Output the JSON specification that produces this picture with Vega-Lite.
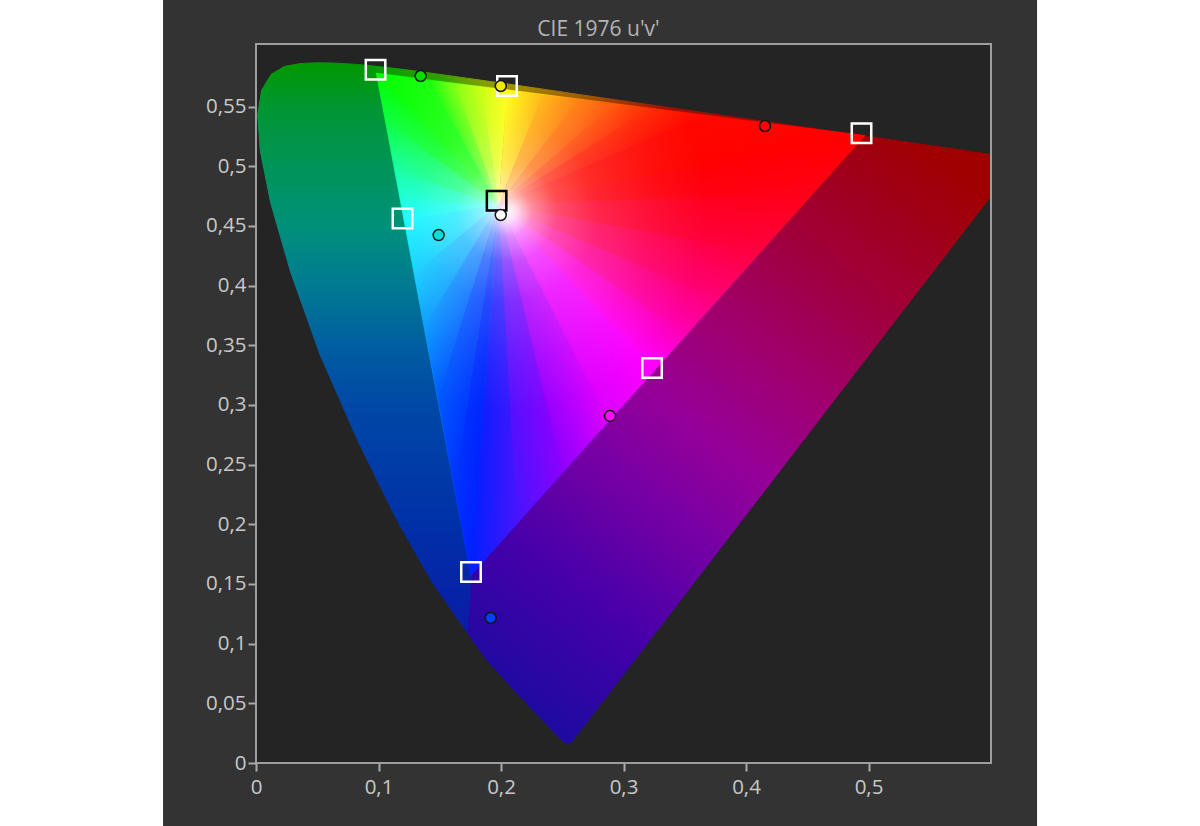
{
  "$schema": "https://vega.github.io/schema/vega-lite/v6.json",
  "width": 735,
  "height": 719,
  "autosize": {"type": "none"},
  "padding": {"left": 256, "top": 44, "right": 209, "bottom": 63},
  "background": "#ffffff",
  "config": {"view": {"stroke": null}, "font": "Open Sans"},
  "title": {"text": "CIE 1976 u'v'", "fontSize": 21, "font": "Open Sans", "fontWeight": "normal", "color": "#b4b4b4", "anchor": "middle", "dx": -25, "dy": 20, "offset": -36.5, "baseline": "alphabetic"},
  "datasets": {
    "rects": [
      {"r": "panel", "u": -0.0759, "u2": 0.6376, "v": -0.07, "v2": 0.63935},
      {"r": "plot", "u": 0, "u2": 0.6, "v": 0, "v2": 0.6025}
    ],
    "poly": [
      {"p": "O1", "i": 0, "u": 0.198, "v": 0.468}, {"p": "O1", "i": 1, "u": 0.0926, "v": 0.5844}, {"p": "O1", "i": 2, "u": 0.0953, "v": 0.5841}, {"p": "O1", "i": 3, "u": 0.1127, "v": 0.5821}, {"p": "O1", "i": 4, "u": 0.1319, "v": 0.5796}, {"p": "O1", "i": 5, "u": 0.1531, "v": 0.5766}, {"p": "O1", "i": 6, "u": 0.2026, "v": 0.5694}, {"p": "O1", "i": 7, "u": 0.2054, "v": 0.569}, {"p": "O1", "i": 8, "u": 0.198, "v": 0.468},
      {"p": "O2", "i": 0, "u": 0.198, "v": 0.468}, {"p": "O2", "i": 1, "u": 0.2054, "v": 0.569}, {"p": "O2", "i": 2, "u": 0.2623, "v": 0.5604}, {"p": "O2", "i": 3, "u": 0.3315, "v": 0.5501}, {"p": "O2", "i": 4, "u": 0.4035, "v": 0.5393}, {"p": "O2", "i": 5, "u": 0.4964, "v": 0.5256}, {"p": "O2", "i": 6, "u": 0.198, "v": 0.468},
      {"p": "OR", "i": 0, "u": 0.198, "v": 0.468}, {"p": "OR", "i": 1, "u": 0.4964, "v": 0.5256}, {"p": "OR", "i": 2, "u": 0.5203, "v": 0.5219}, {"p": "OR", "i": 3, "u": 0.6005, "v": 0.5099}, {"p": "OR", "i": 4, "u": 0.6234, "v": 0.5065}, {"p": "OR", "i": 5, "u": 0.2568, "v": 0.0166}, {"p": "OR", "i": 6, "u": 0.2522, "v": 0.0169}, {"p": "OR", "i": 7, "u": 0.2461, "v": 0.0226}, {"p": "OR", "i": 8, "u": 0.2347, "v": 0.035}, {"p": "OR", "i": 9, "u": 0.2161, "v": 0.0549}, {"p": "OR", "i": 10, "u": 0.1877, "v": 0.0871}, {"p": "OR", "i": 11, "u": 0.1721, "v": 0.11}, {"p": "OR", "i": 12, "u": 0.198, "v": 0.468},
      {"p": "OL", "i": 0, "u": 0.198, "v": 0.468}, {"p": "OL", "i": 1, "u": 0.1721, "v": 0.11}, {"p": "OL", "i": 2, "u": 0.1441, "v": 0.151}, {"p": "OL", "i": 3, "u": 0.1147, "v": 0.2044}, {"p": "OL", "i": 4, "u": 0.0828, "v": 0.2708}, {"p": "OL", "i": 5, "u": 0.0521, "v": 0.3427}, {"p": "OL", "i": 6, "u": 0.0282, "v": 0.4117}, {"p": "OL", "i": 7, "u": 0.0119, "v": 0.4698}, {"p": "OL", "i": 8, "u": 0.0035, "v": 0.5131}, {"p": "OL", "i": 9, "u": 0.0014, "v": 0.5432}, {"p": "OL", "i": 10, "u": 0.0046, "v": 0.5638}, {"p": "OL", "i": 11, "u": 0.0123, "v": 0.577}, {"p": "OL", "i": 12, "u": 0.0231, "v": 0.5837}, {"p": "OL", "i": 13, "u": 0.036, "v": 0.5861}, {"p": "OL", "i": 14, "u": 0.0501, "v": 0.5868}, {"p": "OL", "i": 15, "u": 0.0643, "v": 0.5865}, {"p": "OL", "i": 16, "u": 0.0792, "v": 0.5856}, {"p": "OL", "i": 17, "u": 0.0926, "v": 0.5844}, {"p": "OL", "i": 18, "u": 0.198, "v": 0.468},
      {"p": "T1", "i": 0, "u": 0.198, "v": 0.468}, {"p": "T1", "i": 1, "u": 0.0986, "v": 0.5777}, {"p": "T1", "i": 2, "u": 0.205, "v": 0.5638}, {"p": "T1", "i": 3, "u": 0.198, "v": 0.468},
      {"p": "T2", "i": 0, "u": 0.198, "v": 0.468}, {"p": "T2", "i": 1, "u": 0.205, "v": 0.5638}, {"p": "T2", "i": 2, "u": 0.4964, "v": 0.5256}, {"p": "T2", "i": 3, "u": 0.198, "v": 0.468},
      {"p": "T3", "i": 0, "u": 0.198, "v": 0.468}, {"p": "T3", "i": 1, "u": 0.4964, "v": 0.5256}, {"p": "T3", "i": 2, "u": 0.325, "v": 0.3293}, {"p": "T3", "i": 3, "u": 0.198, "v": 0.468},
      {"p": "T4", "i": 0, "u": 0.198, "v": 0.468}, {"p": "T4", "i": 1, "u": 0.325, "v": 0.3293}, {"p": "T4", "i": 2, "u": 0.1755, "v": 0.158}, {"p": "T4", "i": 3, "u": 0.198, "v": 0.468},
      {"p": "T5", "i": 0, "u": 0.198, "v": 0.468}, {"p": "T5", "i": 1, "u": 0.1755, "v": 0.158}, {"p": "T5", "i": 2, "u": 0.1211, "v": 0.455}, {"p": "T5", "i": 3, "u": 0.198, "v": 0.468},
      {"p": "T6", "i": 0, "u": 0.198, "v": 0.468}, {"p": "T6", "i": 1, "u": 0.1211, "v": 0.455}, {"p": "T6", "i": 2, "u": 0.0986, "v": 0.5777}, {"p": "T6", "i": 3, "u": 0.198, "v": 0.468},

      {"p": "a1", "i": 0, "u": 0.198, "v": 0.468}, {"p": "a1", "i": 1, "u": 0.0986, "v": 0.5777}, {"p": "a1", "i": 2, "u": 0.1412, "v": 0.5721}, {"p": "a1", "i": 3, "u": 0.198, "v": 0.468}, {"p": "a1", "i": 4, "u": 0, "v": 0.6025}, {"p": "a1", "i": 5, "u": 0.198, "v": 0.468}, {"p": "a1", "i": 6, "u": 0.6, "v": 0}, {"p": "a1", "i": 7, "u": 0.198, "v": 0.468},
      {"p": "a2", "i": 0, "u": 0.198, "v": 0.468}, {"p": "a2", "i": 1, "u": 0.1412, "v": 0.5721}, {"p": "a2", "i": 2, "u": 0.1624, "v": 0.5694}, {"p": "a2", "i": 3, "u": 0.198, "v": 0.468}, {"p": "a2", "i": 4, "u": 0, "v": 0.6025}, {"p": "a2", "i": 5, "u": 0.198, "v": 0.468}, {"p": "a2", "i": 6, "u": 0.6, "v": 0}, {"p": "a2", "i": 7, "u": 0.198, "v": 0.468},
      {"p": "a3", "i": 0, "u": 0.198, "v": 0.468}, {"p": "a3", "i": 1, "u": 0.1624, "v": 0.5694}, {"p": "a3", "i": 2, "u": 0.1837, "v": 0.5666}, {"p": "a3", "i": 3, "u": 0.198, "v": 0.468}, {"p": "a3", "i": 4, "u": 0, "v": 0.6025}, {"p": "a3", "i": 5, "u": 0.198, "v": 0.468}, {"p": "a3", "i": 6, "u": 0.6, "v": 0}, {"p": "a3", "i": 7, "u": 0.198, "v": 0.468},
      {"p": "a4", "i": 0, "u": 0.198, "v": 0.468}, {"p": "a4", "i": 1, "u": 0.1837, "v": 0.5666}, {"p": "a4", "i": 2, "u": 0.205, "v": 0.5638}, {"p": "a4", "i": 3, "u": 0.198, "v": 0.468}, {"p": "a4", "i": 4, "u": 0, "v": 0.6025}, {"p": "a4", "i": 5, "u": 0.198, "v": 0.468}, {"p": "a4", "i": 6, "u": 0.6, "v": 0}, {"p": "a4", "i": 7, "u": 0.198, "v": 0.468},
      {"p": "b1", "i": 0, "u": 0.198, "v": 0.468}, {"p": "b1", "i": 1, "u": 0.205, "v": 0.5638}, {"p": "b1", "i": 2, "u": 0.2341, "v": 0.56}, {"p": "b1", "i": 3, "u": 0.198, "v": 0.468}, {"p": "b1", "i": 4, "u": 0, "v": 0.6025}, {"p": "b1", "i": 5, "u": 0.198, "v": 0.468}, {"p": "b1", "i": 6, "u": 0.6, "v": 0}, {"p": "b1", "i": 7, "u": 0.198, "v": 0.468},
      {"p": "b2", "i": 0, "u": 0.198, "v": 0.468}, {"p": "b2", "i": 1, "u": 0.2341, "v": 0.56}, {"p": "b2", "i": 2, "u": 0.2633, "v": 0.5562}, {"p": "b2", "i": 3, "u": 0.198, "v": 0.468}, {"p": "b2", "i": 4, "u": 0, "v": 0.6025}, {"p": "b2", "i": 5, "u": 0.198, "v": 0.468}, {"p": "b2", "i": 6, "u": 0.6, "v": 0}, {"p": "b2", "i": 7, "u": 0.198, "v": 0.468},
      {"p": "b3", "i": 0, "u": 0.198, "v": 0.468}, {"p": "b3", "i": 1, "u": 0.2633, "v": 0.5562}, {"p": "b3", "i": 2, "u": 0.2924, "v": 0.5523}, {"p": "b3", "i": 3, "u": 0.198, "v": 0.468}, {"p": "b3", "i": 4, "u": 0, "v": 0.6025}, {"p": "b3", "i": 5, "u": 0.198, "v": 0.468}, {"p": "b3", "i": 6, "u": 0.6, "v": 0}, {"p": "b3", "i": 7, "u": 0.198, "v": 0.468},
      {"p": "b4", "i": 0, "u": 0.198, "v": 0.468}, {"p": "b4", "i": 1, "u": 0.2924, "v": 0.5523}, {"p": "b4", "i": 2, "u": 0.3216, "v": 0.5485}, {"p": "b4", "i": 3, "u": 0.198, "v": 0.468}, {"p": "b4", "i": 4, "u": 0, "v": 0.6025}, {"p": "b4", "i": 5, "u": 0.198, "v": 0.468}, {"p": "b4", "i": 6, "u": 0.6, "v": 0}, {"p": "b4", "i": 7, "u": 0.198, "v": 0.468},
      {"p": "b5", "i": 0, "u": 0.198, "v": 0.468}, {"p": "b5", "i": 1, "u": 0.3216, "v": 0.5485}, {"p": "b5", "i": 2, "u": 0.3653, "v": 0.5428}, {"p": "b5", "i": 3, "u": 0.198, "v": 0.468}, {"p": "b5", "i": 4, "u": 0, "v": 0.6025}, {"p": "b5", "i": 5, "u": 0.198, "v": 0.468}, {"p": "b5", "i": 6, "u": 0.6, "v": 0}, {"p": "b5", "i": 7, "u": 0.198, "v": 0.468},
      {"p": "b6", "i": 0, "u": 0.198, "v": 0.468}, {"p": "b6", "i": 1, "u": 0.3653, "v": 0.5428}, {"p": "b6", "i": 2, "u": 0.4964, "v": 0.5256}, {"p": "b6", "i": 3, "u": 0.198, "v": 0.468}, {"p": "b6", "i": 4, "u": 0, "v": 0.6025}, {"p": "b6", "i": 5, "u": 0.198, "v": 0.468}, {"p": "b6", "i": 6, "u": 0.6, "v": 0}, {"p": "b6", "i": 7, "u": 0.198, "v": 0.468},
      {"p": "c1", "i": 0, "u": 0.198, "v": 0.468}, {"p": "c1", "i": 1, "u": 0.4964, "v": 0.5256}, {"p": "c1", "i": 2, "u": 0.4536, "v": 0.4765}, {"p": "c1", "i": 3, "u": 0.198, "v": 0.468}, {"p": "c1", "i": 4, "u": 0, "v": 0.6025}, {"p": "c1", "i": 5, "u": 0.198, "v": 0.468}, {"p": "c1", "i": 6, "u": 0.6, "v": 0}, {"p": "c1", "i": 7, "u": 0.198, "v": 0.468},
      {"p": "c2", "i": 0, "u": 0.198, "v": 0.468}, {"p": "c2", "i": 1, "u": 0.4536, "v": 0.4765}, {"p": "c2", "i": 2, "u": 0.4107, "v": 0.4275}, {"p": "c2", "i": 3, "u": 0.198, "v": 0.468}, {"p": "c2", "i": 4, "u": 0, "v": 0.6025}, {"p": "c2", "i": 5, "u": 0.198, "v": 0.468}, {"p": "c2", "i": 6, "u": 0.6, "v": 0}, {"p": "c2", "i": 7, "u": 0.198, "v": 0.468},
      {"p": "c3", "i": 0, "u": 0.198, "v": 0.468}, {"p": "c3", "i": 1, "u": 0.4107, "v": 0.4275}, {"p": "c3", "i": 2, "u": 0.3764, "v": 0.3882}, {"p": "c3", "i": 3, "u": 0.198, "v": 0.468}, {"p": "c3", "i": 4, "u": 0, "v": 0.6025}, {"p": "c3", "i": 5, "u": 0.198, "v": 0.468}, {"p": "c3", "i": 6, "u": 0.6, "v": 0}, {"p": "c3", "i": 7, "u": 0.198, "v": 0.468},
      {"p": "c4", "i": 0, "u": 0.198, "v": 0.468}, {"p": "c4", "i": 1, "u": 0.3764, "v": 0.3882}, {"p": "c4", "i": 2, "u": 0.3507, "v": 0.3587}, {"p": "c4", "i": 3, "u": 0.198, "v": 0.468}, {"p": "c4", "i": 4, "u": 0, "v": 0.6025}, {"p": "c4", "i": 5, "u": 0.198, "v": 0.468}, {"p": "c4", "i": 6, "u": 0.6, "v": 0}, {"p": "c4", "i": 7, "u": 0.198, "v": 0.468},
      {"p": "c5", "i": 0, "u": 0.198, "v": 0.468}, {"p": "c5", "i": 1, "u": 0.3507, "v": 0.3587}, {"p": "c5", "i": 2, "u": 0.325, "v": 0.3293}, {"p": "c5", "i": 3, "u": 0.198, "v": 0.468}, {"p": "c5", "i": 4, "u": 0, "v": 0.6025}, {"p": "c5", "i": 5, "u": 0.198, "v": 0.468}, {"p": "c5", "i": 6, "u": 0.6, "v": 0}, {"p": "c5", "i": 7, "u": 0.198, "v": 0.468},
      {"p": "d1", "i": 0, "u": 0.198, "v": 0.468}, {"p": "d1", "i": 1, "u": 0.325, "v": 0.3293}, {"p": "d1", "i": 2, "u": 0.2876, "v": 0.2865}, {"p": "d1", "i": 3, "u": 0.198, "v": 0.468}, {"p": "d1", "i": 4, "u": 0, "v": 0.6025}, {"p": "d1", "i": 5, "u": 0.198, "v": 0.468}, {"p": "d1", "i": 6, "u": 0.6, "v": 0}, {"p": "d1", "i": 7, "u": 0.198, "v": 0.468},
      {"p": "d2", "i": 0, "u": 0.198, "v": 0.468}, {"p": "d2", "i": 1, "u": 0.2876, "v": 0.2865}, {"p": "d2", "i": 2, "u": 0.2503, "v": 0.2437}, {"p": "d2", "i": 3, "u": 0.198, "v": 0.468}, {"p": "d2", "i": 4, "u": 0, "v": 0.6025}, {"p": "d2", "i": 5, "u": 0.198, "v": 0.468}, {"p": "d2", "i": 6, "u": 0.6, "v": 0}, {"p": "d2", "i": 7, "u": 0.198, "v": 0.468},
      {"p": "d3", "i": 0, "u": 0.198, "v": 0.468}, {"p": "d3", "i": 1, "u": 0.2503, "v": 0.2437}, {"p": "d3", "i": 2, "u": 0.2129, "v": 0.2008}, {"p": "d3", "i": 3, "u": 0.198, "v": 0.468}, {"p": "d3", "i": 4, "u": 0, "v": 0.6025}, {"p": "d3", "i": 5, "u": 0.198, "v": 0.468}, {"p": "d3", "i": 6, "u": 0.6, "v": 0}, {"p": "d3", "i": 7, "u": 0.198, "v": 0.468},
      {"p": "d4", "i": 0, "u": 0.198, "v": 0.468}, {"p": "d4", "i": 1, "u": 0.2129, "v": 0.2008}, {"p": "d4", "i": 2, "u": 0.1755, "v": 0.158}, {"p": "d4", "i": 3, "u": 0.198, "v": 0.468}, {"p": "d4", "i": 4, "u": 0, "v": 0.6025}, {"p": "d4", "i": 5, "u": 0.198, "v": 0.468}, {"p": "d4", "i": 6, "u": 0.6, "v": 0}, {"p": "d4", "i": 7, "u": 0.198, "v": 0.468},
      {"p": "e1", "i": 0, "u": 0.198, "v": 0.468}, {"p": "e1", "i": 1, "u": 0.1755, "v": 0.158}, {"p": "e1", "i": 2, "u": 0.1619, "v": 0.2323}, {"p": "e1", "i": 3, "u": 0.198, "v": 0.468}, {"p": "e1", "i": 4, "u": 0, "v": 0.6025}, {"p": "e1", "i": 5, "u": 0.198, "v": 0.468}, {"p": "e1", "i": 6, "u": 0.6, "v": 0}, {"p": "e1", "i": 7, "u": 0.198, "v": 0.468},
      {"p": "e2", "i": 0, "u": 0.198, "v": 0.468}, {"p": "e2", "i": 1, "u": 0.1619, "v": 0.2323}, {"p": "e2", "i": 2, "u": 0.1483, "v": 0.3065}, {"p": "e2", "i": 3, "u": 0.198, "v": 0.468}, {"p": "e2", "i": 4, "u": 0, "v": 0.6025}, {"p": "e2", "i": 5, "u": 0.198, "v": 0.468}, {"p": "e2", "i": 6, "u": 0.6, "v": 0}, {"p": "e2", "i": 7, "u": 0.198, "v": 0.468},
      {"p": "e3", "i": 0, "u": 0.198, "v": 0.468}, {"p": "e3", "i": 1, "u": 0.1483, "v": 0.3065}, {"p": "e3", "i": 2, "u": 0.1374, "v": 0.3659}, {"p": "e3", "i": 3, "u": 0.198, "v": 0.468}, {"p": "e3", "i": 4, "u": 0, "v": 0.6025}, {"p": "e3", "i": 5, "u": 0.198, "v": 0.468}, {"p": "e3", "i": 6, "u": 0.6, "v": 0}, {"p": "e3", "i": 7, "u": 0.198, "v": 0.468},
      {"p": "e4", "i": 0, "u": 0.198, "v": 0.468}, {"p": "e4", "i": 1, "u": 0.1374, "v": 0.3659}, {"p": "e4", "i": 2, "u": 0.1293, "v": 0.4105}, {"p": "e4", "i": 3, "u": 0.198, "v": 0.468}, {"p": "e4", "i": 4, "u": 0, "v": 0.6025}, {"p": "e4", "i": 5, "u": 0.198, "v": 0.468}, {"p": "e4", "i": 6, "u": 0.6, "v": 0}, {"p": "e4", "i": 7, "u": 0.198, "v": 0.468},
      {"p": "e5", "i": 0, "u": 0.198, "v": 0.468}, {"p": "e5", "i": 1, "u": 0.1293, "v": 0.4105}, {"p": "e5", "i": 2, "u": 0.1211, "v": 0.455}, {"p": "e5", "i": 3, "u": 0.198, "v": 0.468}, {"p": "e5", "i": 4, "u": 0, "v": 0.6025}, {"p": "e5", "i": 5, "u": 0.198, "v": 0.468}, {"p": "e5", "i": 6, "u": 0.6, "v": 0}, {"p": "e5", "i": 7, "u": 0.198, "v": 0.468},
      {"p": "f1", "i": 0, "u": 0.198, "v": 0.468}, {"p": "f1", "i": 1, "u": 0.1211, "v": 0.455}, {"p": "f1", "i": 2, "u": 0.1177, "v": 0.4734}, {"p": "f1", "i": 3, "u": 0.198, "v": 0.468}, {"p": "f1", "i": 4, "u": 0, "v": 0.6025}, {"p": "f1", "i": 5, "u": 0.198, "v": 0.468}, {"p": "f1", "i": 6, "u": 0.6, "v": 0}, {"p": "f1", "i": 7, "u": 0.198, "v": 0.468},
      {"p": "f2", "i": 0, "u": 0.198, "v": 0.468}, {"p": "f2", "i": 1, "u": 0.1177, "v": 0.4734}, {"p": "f2", "i": 2, "u": 0.1137, "v": 0.4955}, {"p": "f2", "i": 3, "u": 0.198, "v": 0.468}, {"p": "f2", "i": 4, "u": 0, "v": 0.6025}, {"p": "f2", "i": 5, "u": 0.198, "v": 0.468}, {"p": "f2", "i": 6, "u": 0.6, "v": 0}, {"p": "f2", "i": 7, "u": 0.198, "v": 0.468},
      {"p": "f3", "i": 0, "u": 0.198, "v": 0.468}, {"p": "f3", "i": 1, "u": 0.1137, "v": 0.4955}, {"p": "f3", "i": 2, "u": 0.106, "v": 0.5372}, {"p": "f3", "i": 3, "u": 0.198, "v": 0.468}, {"p": "f3", "i": 4, "u": 0, "v": 0.6025}, {"p": "f3", "i": 5, "u": 0.198, "v": 0.468}, {"p": "f3", "i": 6, "u": 0.6, "v": 0}, {"p": "f3", "i": 7, "u": 0.198, "v": 0.468},
      {"p": "f4", "i": 0, "u": 0.198, "v": 0.468}, {"p": "f4", "i": 1, "u": 0.106, "v": 0.5372}, {"p": "f4", "i": 2, "u": 0.0986, "v": 0.5777}, {"p": "f4", "i": 3, "u": 0.198, "v": 0.468}, {"p": "f4", "i": 4, "u": 0, "v": 0.6025}, {"p": "f4", "i": 5, "u": 0.198, "v": 0.468}, {"p": "f4", "i": 6, "u": 0.6, "v": 0}, {"p": "f4", "i": 7, "u": 0.198, "v": 0.468},

      {"p": "TW", "i": 0, "u": 0.0986, "v": 0.5777}, {"p": "TW", "i": 1, "u": 0.205, "v": 0.5638}, {"p": "TW", "i": 2, "u": 0.4964, "v": 0.5256}, {"p": "TW", "i": 3, "u": 0.325, "v": 0.3293}, {"p": "TW", "i": 4, "u": 0.1755, "v": 0.158}, {"p": "TW", "i": 5, "u": 0.1211, "v": 0.455}, {"p": "TW", "i": 6, "u": 0.0986, "v": 0.5777}
    ],
    "pts": [
      {"kind": "target", "name": "G", "u": 0.0976, "v": 0.5809},
      {"kind": "target", "name": "Y", "u": 0.2049, "v": 0.5673},
      {"kind": "target", "name": "R", "u": 0.4943, "v": 0.5277},
      {"kind": "target", "name": "C", "u": 0.1196, "v": 0.4563},
      {"kind": "target", "name": "M", "u": 0.3233, "v": 0.331},
      {"kind": "target", "name": "B", "u": 0.1755, "v": 0.16},
      {"kind": "target", "name": "W", "u": 0.1964, "v": 0.4711},
      {"kind": "measured", "name": "G", "u": 0.1344, "v": 0.5757},
      {"kind": "measured", "name": "Y", "u": 0.1998, "v": 0.5673},
      {"kind": "measured", "name": "R", "u": 0.4155, "v": 0.5338},
      {"kind": "measured", "name": "W", "u": 0.1998, "v": 0.4592},
      {"kind": "measured", "name": "C", "u": 0.1491, "v": 0.4424},
      {"kind": "measured", "name": "M", "u": 0.289, "v": 0.2908},
      {"kind": "measured", "name": "B", "u": 0.1916, "v": 0.1215}
    ]
  },
  "encoding": {
    "x": {
      "field": "u", "type": "quantitative",
      "scale": {"domain": [0, 0.6], "nice": false, "zero": false},
      "axis": {"values": [0, 0.1, 0.2, 0.3, 0.4, 0.5], "labelExpr": "replace(format(datum.value, '.2~f'), '.', ',')", "title": null, "domain": false, "grid": false, "ticks": true, "tickSize": 8, "tickWidth": 2, "tickColor": "#aaaaaa", "labelColor": "#c8c8c8", "labelFontSize": 20.5, "labelFont": "Open Sans", "labelPadding": 6, "labelFlush": false, "labelOverlap": false, "zindex": 1}
    },
    "y": {
      "field": "v", "type": "quantitative",
      "scale": {"domain": [0, 0.6025], "nice": false, "zero": false},
      "axis": {"values": [0, 0.05, 0.1, 0.15, 0.2, 0.25, 0.3, 0.35, 0.4, 0.45, 0.5, 0.55], "labelExpr": "replace(format(datum.value, '.2~f'), '.', ',')", "title": null, "domain": false, "grid": false, "ticks": true, "tickSize": 8, "tickWidth": 2, "tickColor": "#aaaaaa", "labelColor": "#c8c8c8", "labelFontSize": 20.5, "labelFont": "Open Sans", "labelPadding": 2, "labelFlush": false, "labelOverlap": false, "zindex": 1}
    }
  },
  "layer": [
    {"data": {"name": "rects"}, "transform": [{"filter": "datum.r === 'panel'"}], "mark": {"type": "rect", "fill": "#333333", "stroke": null}, "encoding": {"x2": {"field": "u2"}, "y2": {"field": "v2"}}},
    {"data": {"name": "rects"}, "transform": [{"filter": "datum.r === 'plot'"}], "mark": {"type": "rect", "fill": "#242424", "stroke": null}, "encoding": {"x2": {"field": "u2"}, "y2": {"field": "v2"}}},
    {"data": {"name": "poly"}, "transform": [{"filter": "datum.p === 'O1'"}], "encoding": {"order": {"field": "i", "type": "quantitative"}},
      "mark": {"type": "line", "clip": true, "strokeWidth": 1, "strokeJoin": "round",
        "fill": {"gradient": "linear", "x1": 0, "y1": 0, "x2": 0.7715, "y2": -0.3589, "stops": [{"offset": 0, "color": "#009c00"}, {"offset": 0.5, "color": "#30a000"}, {"offset": 0.8, "color": "#80a000"}, {"offset": 1, "color": "#a09400"}]},
        "stroke": {"gradient": "linear", "x1": 0, "y1": 0, "x2": 0.7715, "y2": -0.3589, "stops": [{"offset": 0, "color": "#009c00"}, {"offset": 0.5, "color": "#30a000"}, {"offset": 0.8, "color": "#80a000"}, {"offset": 1, "color": "#a09400"}]}}},
    {"data": {"name": "poly"}, "transform": [{"filter": "datum.p === 'O2'"}], "encoding": {"order": {"field": "i", "type": "quantitative"}},
      "mark": {"type": "line", "clip": true, "strokeWidth": 1, "strokeJoin": "round",
        "fill": {"gradient": "linear", "x1": 0.0248, "y1": 0, "x2": 0.9053, "y2": 0.5747, "stops": [{"offset": 0, "color": "#a09400"}, {"offset": 0.2, "color": "#a06000"}, {"offset": 0.45, "color": "#a01000"}, {"offset": 1, "color": "#a00000"}]},
        "stroke": {"gradient": "linear", "x1": 0.0248, "y1": 0, "x2": 0.9053, "y2": 0.5747, "stops": [{"offset": 0, "color": "#a09400"}, {"offset": 0.2, "color": "#a06000"}, {"offset": 0.45, "color": "#a01000"}, {"offset": 1, "color": "#a00000"}]}}},
    {"data": {"name": "poly"}, "transform": [{"filter": "datum.p === 'OR'"}], "encoding": {"order": {"field": "i", "type": "quantitative"}},
      "mark": {"type": "line", "clip": true, "strokeWidth": 1, "strokeJoin": "round",
        "fill": {"gradient": "linear", "x1": 0.1877, "y1": 1, "x2": 0.9063, "y2": -0.028, "stops": [{"offset": 0, "color": "#1e0aa0"}, {"offset": 0.17, "color": "#4600aa"}, {"offset": 0.334, "color": "#7800a4"}, {"offset": 0.446, "color": "#960098"}, {"offset": 0.579, "color": "#a0006e"}, {"offset": 0.722, "color": "#a0003c"}, {"offset": 0.864, "color": "#a00014"}, {"offset": 0.94, "color": "#a00000"}, {"offset": 1, "color": "#a00000"}]},
        "stroke": {"gradient": "linear", "x1": 0.1877, "y1": 1, "x2": 0.9063, "y2": -0.028, "stops": [{"offset": 0, "color": "#1e0aa0"}, {"offset": 0.17, "color": "#4600aa"}, {"offset": 0.334, "color": "#7800a4"}, {"offset": 0.446, "color": "#960098"}, {"offset": 0.579, "color": "#a0006e"}, {"offset": 0.722, "color": "#a0003c"}, {"offset": 0.864, "color": "#a00014"}, {"offset": 0.94, "color": "#a00000"}, {"offset": 1, "color": "#a00000"}]}}},
    {"data": {"name": "poly"}, "transform": [{"filter": "datum.p === 'OL'"}], "encoding": {"order": {"field": "i", "type": "quantitative"}},
      "mark": {"type": "line", "clip": true, "strokeWidth": 1, "strokeJoin": "round",
        "fill": {"gradient": "linear", "x1": 0, "y1": 0, "x2": 0, "y2": 1, "stops": [{"offset": 0, "color": "#009800"}, {"offset": 0.077, "color": "#009632"}, {"offset": 0.182, "color": "#009458"}, {"offset": 0.287, "color": "#00907a"}, {"offset": 0.392, "color": "#007a92"}, {"offset": 0.497, "color": "#005ea0"}, {"offset": 0.601, "color": "#0048a6"}, {"offset": 0.811, "color": "#0030a8"}, {"offset": 1, "color": "#0a1ca6"}]},
        "stroke": {"gradient": "linear", "x1": 0, "y1": 0, "x2": 0, "y2": 1, "stops": [{"offset": 0, "color": "#009800"}, {"offset": 0.077, "color": "#009632"}, {"offset": 0.182, "color": "#009458"}, {"offset": 0.287, "color": "#00907a"}, {"offset": 0.392, "color": "#007a92"}, {"offset": 0.497, "color": "#005ea0"}, {"offset": 0.601, "color": "#0048a6"}, {"offset": 0.811, "color": "#0030a8"}, {"offset": 1, "color": "#0a1ca6"}]}}},
    {"data": {"name": "poly"}, "transform": [{"filter": "datum.p === 'T1'"}], "encoding": {"order": {"field": "i", "type": "quantitative"}},
      "mark": {"type": "line", "clip": true, "strokeWidth": 1.5, "strokeJoin": "round",
        "fill": {"gradient": "linear", "x1": 0, "y1": 0, "x2": 0.7748, "y2": -0.3592, "stops": [{"offset": 0, "color": "#00ff00"}, {"offset": 0.4, "color": "#00ff00"}, {"offset": 0.65, "color": "#60ff00"}, {"offset": 0.85, "color": "#c0ff00"}, {"offset": 1, "color": "#ffff00"}]},
        "stroke": {"gradient": "linear", "x1": 0, "y1": 0, "x2": 0.7748, "y2": -0.3592, "stops": [{"offset": 0, "color": "#00ff00"}, {"offset": 0.4, "color": "#00ff00"}, {"offset": 0.65, "color": "#60ff00"}, {"offset": 0.85, "color": "#c0ff00"}, {"offset": 1, "color": "#ffff00"}]}}},
    {"data": {"name": "poly"}, "transform": [{"filter": "datum.p === 'T2'"}], "encoding": {"order": {"field": "i", "type": "quantitative"}},
      "mark": {"type": "line", "clip": true, "strokeWidth": 1.5, "strokeJoin": "round",
        "fill": {"gradient": "linear", "x1": 0.0235, "y1": 0, "x2": 0.8977, "y2": 0.5587, "stops": [{"offset": 0, "color": "#ffff00"}, {"offset": 0.1, "color": "#ffd000"}, {"offset": 0.2, "color": "#ff9000"}, {"offset": 0.32, "color": "#ff5000"}, {"offset": 0.45, "color": "#ff1800"}, {"offset": 0.6, "color": "#ff0000"}, {"offset": 1, "color": "#ff0000"}]},
        "stroke": {"gradient": "linear", "x1": 0.0235, "y1": 0, "x2": 0.8977, "y2": 0.5587, "stops": [{"offset": 0, "color": "#ffff00"}, {"offset": 0.1, "color": "#ffd000"}, {"offset": 0.2, "color": "#ff9000"}, {"offset": 0.32, "color": "#ff5000"}, {"offset": 0.45, "color": "#ff1800"}, {"offset": 0.6, "color": "#ff0000"}, {"offset": 1, "color": "#ff0000"}]}}},
    {"data": {"name": "poly"}, "transform": [{"filter": "datum.p === 'T3'"}], "encoding": {"order": {"field": "i", "type": "quantitative"}},
      "mark": {"type": "line", "clip": true, "strokeWidth": 1.5, "strokeJoin": "round",
        "fill": {"gradient": "linear", "x1": 1, "y1": 0, "x2": 0.6881, "y2": 1.0761, "stops": [{"offset": 0, "color": "#ff0000"}, {"offset": 0.3, "color": "#ff0020"}, {"offset": 0.55, "color": "#ff0060"}, {"offset": 0.8, "color": "#ff00b0"}, {"offset": 1, "color": "#ff00ff"}]},
        "stroke": {"gradient": "linear", "x1": 1, "y1": 0, "x2": 0.6881, "y2": 1.0761, "stops": [{"offset": 0, "color": "#ff0000"}, {"offset": 0.3, "color": "#ff0020"}, {"offset": 0.55, "color": "#ff0060"}, {"offset": 0.8, "color": "#ff00b0"}, {"offset": 1, "color": "#ff00ff"}]}}},
    {"data": {"name": "poly"}, "transform": [{"filter": "datum.p === 'T4'"}], "encoding": {"order": {"field": "i", "type": "quantitative"}},
      "mark": {"type": "line", "clip": true, "strokeWidth": 1.5, "strokeJoin": "round",
        "fill": {"gradient": "linear", "x1": 1, "y1": 0.4474, "x2": -0.0272, "y2": 0.9435, "stops": [{"offset": 0, "color": "#ff00ff"}, {"offset": 0.25, "color": "#c000ff"}, {"offset": 0.5, "color": "#7800ff"}, {"offset": 0.72, "color": "#3818ff"}, {"offset": 1, "color": "#0028ff"}]},
        "stroke": {"gradient": "linear", "x1": 1, "y1": 0.4474, "x2": -0.0272, "y2": 0.9435, "stops": [{"offset": 0, "color": "#ff00ff"}, {"offset": 0.25, "color": "#c000ff"}, {"offset": 0.5, "color": "#7800ff"}, {"offset": 0.72, "color": "#3818ff"}, {"offset": 1, "color": "#0028ff"}]}}},
    {"data": {"name": "poly"}, "transform": [{"filter": "datum.p === 'T5'"}], "encoding": {"order": {"field": "i", "type": "quantitative"}},
      "mark": {"type": "line", "clip": true, "strokeWidth": 1.5, "strokeJoin": "round",
        "fill": {"gradient": "linear", "x1": 0.7074, "y1": 1, "x2": -0.0395, "y2": 0.0735, "stops": [{"offset": 0, "color": "#0028ff"}, {"offset": 0.3, "color": "#0048ff"}, {"offset": 0.55, "color": "#0080ff"}, {"offset": 0.8, "color": "#00c8ff"}, {"offset": 1, "color": "#00f8f0"}]},
        "stroke": {"gradient": "linear", "x1": 0.7074, "y1": 1, "x2": -0.0395, "y2": 0.0735, "stops": [{"offset": 0, "color": "#0028ff"}, {"offset": 0.3, "color": "#0048ff"}, {"offset": 0.55, "color": "#0080ff"}, {"offset": 0.8, "color": "#00c8ff"}, {"offset": 1, "color": "#00f8f0"}]}}},
    {"data": {"name": "poly"}, "transform": [{"filter": "datum.p === 'T6'"}], "encoding": {"order": {"field": "i", "type": "quantitative"}},
      "mark": {"type": "line", "clip": true, "strokeWidth": 1.5, "strokeJoin": "round",
        "fill": {"gradient": "linear", "x1": 0.2264, "y1": 1, "x2": 0.5602, "y2": 0.2488, "stops": [{"offset": 0, "color": "#00f8f0"}, {"offset": 0.3, "color": "#00ffa0"}, {"offset": 0.6, "color": "#00ff40"}, {"offset": 1, "color": "#00ff00"}]},
        "stroke": {"gradient": "linear", "x1": 0.2264, "y1": 1, "x2": 0.5602, "y2": 0.2488, "stops": [{"offset": 0, "color": "#00f8f0"}, {"offset": 0.3, "color": "#00ffa0"}, {"offset": 0.6, "color": "#00ff40"}, {"offset": 1, "color": "#00ff00"}]}}},

    {"data": {"name": "poly"}, "transform": [{"filter": "datum.p === 'a1'"}], "encoding": {"order": {"field": "i", "type": "quantitative"}}, "mark": {"type": "line", "clip": true, "strokeWidth": 0, "stroke": null, "fill": {"gradient": "linear", "x1": 0.1643, "y1": 0.0412, "x2": 0.2061, "y2": 0.0106, "stops": [{"offset": 0, "color": "#00ff00"}, {"offset": 1, "color": "#10ff00"}]}}},
    {"data": {"name": "poly"}, "transform": [{"filter": "datum.p === 'a2'"}], "encoding": {"order": {"field": "i", "type": "quantitative"}}, "mark": {"type": "line", "clip": true, "strokeWidth": 0, "stroke": null, "fill": {"gradient": "linear", "x1": 0.2353, "y1": 0.0504, "x2": 0.263, "y2": 0.0379, "stops": [{"offset": 0, "color": "#10ff00"}, {"offset": 1, "color": "#80ff00"}]}}},
    {"data": {"name": "poly"}, "transform": [{"filter": "datum.p === 'a3'"}], "encoding": {"order": {"field": "i", "type": "quantitative"}}, "mark": {"type": "line", "clip": true, "strokeWidth": 0, "stroke": null, "fill": {"gradient": "linear", "x1": 0.2707, "y1": 0.055, "x2": 0.303, "y2": 0.0469, "stops": [{"offset": 0, "color": "#80ff00"}, {"offset": 1, "color": "#c8ff00"}]}}},
    {"data": {"name": "poly"}, "transform": [{"filter": "datum.p === 'a4'"}], "encoding": {"order": {"field": "i", "type": "quantitative"}}, "mark": {"type": "line", "clip": true, "strokeWidth": 0, "stroke": null, "fill": {"gradient": "linear", "x1": 0.3062, "y1": 0.0596, "x2": 0.3415, "y2": 0.0583, "stops": [{"offset": 0, "color": "#c8ff00"}, {"offset": 1, "color": "#ffff00"}]}}},
    {"data": {"name": "poly"}, "transform": [{"filter": "datum.p === 'b1'"}], "encoding": {"order": {"field": "i", "type": "quantitative"}}, "mark": {"type": "line", "clip": true, "strokeWidth": 0, "stroke": null, "fill": {"gradient": "linear", "x1": 0.3417, "y1": 0.0642, "x2": 0.3892, "y2": 0.0752, "stops": [{"offset": 0, "color": "#ffff00"}, {"offset": 1, "color": "#ffb000"}]}}},
    {"data": {"name": "poly"}, "transform": [{"filter": "datum.p === 'b2'"}], "encoding": {"order": {"field": "i", "type": "quantitative"}}, "mark": {"type": "line", "clip": true, "strokeWidth": 0, "stroke": null, "fill": {"gradient": "linear", "x1": 0.3903, "y1": 0.0705, "x2": 0.4298, "y2": 0.0928, "stops": [{"offset": 0, "color": "#ffb000"}, {"offset": 1, "color": "#ff7800"}]}}},
    {"data": {"name": "poly"}, "transform": [{"filter": "datum.p === 'b3'"}], "encoding": {"order": {"field": "i", "type": "quantitative"}}, "mark": {"type": "line", "clip": true, "strokeWidth": 0, "stroke": null, "fill": {"gradient": "linear", "x1": 0.4388, "y1": 0.0769, "x2": 0.468, "y2": 0.1041, "stops": [{"offset": 0, "color": "#ff7800"}, {"offset": 1, "color": "#ff5000"}]}}},
    {"data": {"name": "poly"}, "transform": [{"filter": "datum.p === 'b4'"}], "encoding": {"order": {"field": "i", "type": "quantitative"}}, "mark": {"type": "line", "clip": true, "strokeWidth": 0, "stroke": null, "fill": {"gradient": "linear", "x1": 0.4874, "y1": 0.0832, "x2": 0.508, "y2": 0.1106, "stops": [{"offset": 0, "color": "#ff5000"}, {"offset": 1, "color": "#ff2800"}]}}},
    {"data": {"name": "poly"}, "transform": [{"filter": "datum.p === 'b5'"}], "encoding": {"order": {"field": "i", "type": "quantitative"}}, "mark": {"type": "line", "clip": true, "strokeWidth": 0, "stroke": null, "fill": {"gradient": "linear", "x1": 0.5359, "y1": 0.0896, "x2": 0.5559, "y2": 0.1272, "stops": [{"offset": 0, "color": "#ff2800"}, {"offset": 1, "color": "#ff0800"}]}}},
    {"data": {"name": "poly"}, "transform": [{"filter": "datum.p === 'b6'"}], "encoding": {"order": {"field": "i", "type": "quantitative"}}, "mark": {"type": "line", "clip": true, "strokeWidth": 0, "stroke": null, "fill": {"gradient": "linear", "x1": 0.6088, "y1": 0.0991, "x2": 0.6325, "y2": 0.1828, "stops": [{"offset": 0, "color": "#ff0800"}, {"offset": 1, "color": "#ff0000"}]}}},
    {"data": {"name": "poly"}, "transform": [{"filter": "datum.p === 'c1'"}], "encoding": {"order": {"field": "i", "type": "quantitative"}}, "mark": {"type": "line", "clip": true, "strokeWidth": 0, "stroke": null, "fill": {"gradient": "linear", "x1": 0.8273, "y1": 0.1276, "x2": 0.8359, "y2": 0.1996, "stops": [{"offset": 0, "color": "#ff0000"}, {"offset": 1, "color": "#ff0018"}]}}},
    {"data": {"name": "poly"}, "transform": [{"filter": "datum.p === 'c2'"}], "encoding": {"order": {"field": "i", "type": "quantitative"}}, "mark": {"type": "line", "clip": true, "strokeWidth": 0, "stroke": null, "fill": {"gradient": "linear", "x1": 0.7559, "y1": 0.2091, "x2": 0.75, "y2": 0.295, "stops": [{"offset": 0, "color": "#ff0018"}, {"offset": 1, "color": "#ff0040"}]}}},
    {"data": {"name": "poly"}, "transform": [{"filter": "datum.p === 'c3'"}], "encoding": {"order": {"field": "i", "type": "quantitative"}}, "mark": {"type": "line", "clip": true, "strokeWidth": 0, "stroke": null, "fill": {"gradient": "linear", "x1": 0.6845, "y1": 0.2905, "x2": 0.6613, "y2": 0.3661, "stops": [{"offset": 0, "color": "#ff0040"}, {"offset": 1, "color": "#ff0078"}]}}},
    {"data": {"name": "poly"}, "transform": [{"filter": "datum.p === 'c4'"}], "encoding": {"order": {"field": "i", "type": "quantitative"}}, "mark": {"type": "line", "clip": true, "strokeWidth": 0, "stroke": null, "fill": {"gradient": "linear", "x1": 0.6274, "y1": 0.3557, "x2": 0.596, "y2": 0.411, "stops": [{"offset": 0, "color": "#ff0078"}, {"offset": 1, "color": "#ff00b4"}]}}},
    {"data": {"name": "poly"}, "transform": [{"filter": "datum.p === 'c5'"}], "encoding": {"order": {"field": "i", "type": "quantitative"}}, "mark": {"type": "line", "clip": true, "strokeWidth": 0, "stroke": null, "fill": {"gradient": "linear", "x1": 0.5846, "y1": 0.4045, "x2": 0.5416, "y2": 0.4533, "stops": [{"offset": 0, "color": "#ff00b4"}, {"offset": 1, "color": "#ff00ff"}]}}},
    {"data": {"name": "poly"}, "transform": [{"filter": "datum.p === 'd1'"}], "encoding": {"order": {"field": "i", "type": "quantitative"}}, "mark": {"type": "line", "clip": true, "strokeWidth": 0, "stroke": null, "fill": {"gradient": "linear", "x1": 0.5417, "y1": 0.4534, "x2": 0.466, "y2": 0.5048, "stops": [{"offset": 0, "color": "#ff00ff"}, {"offset": 1, "color": "#dc00ff"}]}}},
    {"data": {"name": "poly"}, "transform": [{"filter": "datum.p === 'd2'"}], "encoding": {"order": {"field": "i", "type": "quantitative"}}, "mark": {"type": "line", "clip": true, "strokeWidth": 0, "stroke": null, "fill": {"gradient": "linear", "x1": 0.4794, "y1": 0.5245, "x2": 0.4017, "y2": 0.5518, "stops": [{"offset": 0, "color": "#dc00ff"}, {"offset": 1, "color": "#8c00ff"}]}}},
    {"data": {"name": "poly"}, "transform": [{"filter": "datum.p === 'd3'"}], "encoding": {"order": {"field": "i", "type": "quantitative"}}, "mark": {"type": "line", "clip": true, "strokeWidth": 0, "stroke": null, "fill": {"gradient": "linear", "x1": 0.4171, "y1": 0.5956, "x2": 0.3464, "y2": 0.6053, "stops": [{"offset": 0, "color": "#8c00ff"}, {"offset": 1, "color": "#4614ff"}]}}},
    {"data": {"name": "poly"}, "transform": [{"filter": "datum.p === 'd4'"}], "encoding": {"order": {"field": "i", "type": "quantitative"}}, "mark": {"type": "line", "clip": true, "strokeWidth": 0, "stroke": null, "fill": {"gradient": "linear", "x1": 0.3548, "y1": 0.6667, "x2": 0.2934, "y2": 0.6659, "stops": [{"offset": 0, "color": "#4614ff"}, {"offset": 1, "color": "#0020ff"}]}}},
    {"data": {"name": "poly"}, "transform": [{"filter": "datum.p === 'e1'"}], "encoding": {"order": {"field": "i", "type": "quantitative"}}, "mark": {"type": "line", "clip": true, "strokeWidth": 0, "stroke": null, "fill": {"gradient": "linear", "x1": 0.2925, "y1": 0.7378, "x2": 0.2569, "y2": 0.734, "stops": [{"offset": 0, "color": "#0020ff"}, {"offset": 1, "color": "#0034ff"}]}}},
    {"data": {"name": "poly"}, "transform": [{"filter": "datum.p === 'e2'"}], "encoding": {"order": {"field": "i", "type": "quantitative"}}, "mark": {"type": "line", "clip": true, "strokeWidth": 0, "stroke": null, "fill": {"gradient": "linear", "x1": 0.2698, "y1": 0.6146, "x2": 0.2227, "y2": 0.6044, "stops": [{"offset": 0, "color": "#0034ff"}, {"offset": 1, "color": "#005aff"}]}}},
    {"data": {"name": "poly"}, "transform": [{"filter": "datum.p === 'e3'"}], "encoding": {"order": {"field": "i", "type": "quantitative"}}, "mark": {"type": "line", "clip": true, "strokeWidth": 0, "stroke": null, "fill": {"gradient": "linear", "x1": 0.2472, "y1": 0.4913, "x2": 0.1965, "y2": 0.47, "stops": [{"offset": 0, "color": "#005aff"}, {"offset": 1, "color": "#0096ff"}]}}},
    {"data": {"name": "poly"}, "transform": [{"filter": "datum.p === 'e4'"}], "encoding": {"order": {"field": "i", "type": "quantitative"}}, "mark": {"type": "line", "clip": true, "strokeWidth": 0, "stroke": null, "fill": {"gradient": "linear", "x1": 0.229, "y1": 0.3927, "x2": 0.1846, "y2": 0.3566, "stops": [{"offset": 0, "color": "#0096ff"}, {"offset": 1, "color": "#00c8ff"}]}}},
    {"data": {"name": "poly"}, "transform": [{"filter": "datum.p === 'e5'"}], "encoding": {"order": {"field": "i", "type": "quantitative"}}, "mark": {"type": "line", "clip": true, "strokeWidth": 0, "stroke": null, "fill": {"gradient": "linear", "x1": 0.2154, "y1": 0.3188, "x2": 0.1839, "y2": 0.2535, "stops": [{"offset": 0, "color": "#00c8ff"}, {"offset": 1, "color": "#00f8ff"}]}}},
    {"data": {"name": "poly"}, "transform": [{"filter": "datum.p === 'f1'"}], "encoding": {"order": {"field": "i", "type": "quantitative"}}, "mark": {"type": "line", "clip": true, "strokeWidth": 0, "stroke": null, "fill": {"gradient": "linear", "x1": 0.2018, "y1": 0.2448, "x2": 0.2003, "y2": 0.2141, "stops": [{"offset": 0, "color": "#00f8ff"}, {"offset": 1, "color": "#00ffd4"}]}}},
    {"data": {"name": "poly"}, "transform": [{"filter": "datum.p === 'f2'"}], "encoding": {"order": {"field": "i", "type": "quantitative"}}, "mark": {"type": "line", "clip": true, "strokeWidth": 0, "stroke": null, "fill": {"gradient": "linear", "x1": 0.1962, "y1": 0.2143, "x2": 0.203, "y2": 0.1803, "stops": [{"offset": 0, "color": "#00ffd4"}, {"offset": 1, "color": "#00ffa0"}]}}},
    {"data": {"name": "poly"}, "transform": [{"filter": "datum.p === 'f3'"}], "encoding": {"order": {"field": "i", "type": "quantitative"}}, "mark": {"type": "line", "clip": true, "strokeWidth": 0, "stroke": null, "fill": {"gradient": "linear", "x1": 0.1894, "y1": 0.1776, "x2": 0.2156, "y2": 0.1296, "stops": [{"offset": 0, "color": "#00ffa0"}, {"offset": 1, "color": "#00ff3c"}]}}},
    {"data": {"name": "poly"}, "transform": [{"filter": "datum.p === 'f4'"}], "encoding": {"order": {"field": "i", "type": "quantitative"}}, "mark": {"type": "line", "clip": true, "strokeWidth": 0, "stroke": null, "fill": {"gradient": "linear", "x1": 0.1767, "y1": 0.1084, "x2": 0.2045, "y2": 0.0786, "stops": [{"offset": 0, "color": "#00ff3c"}, {"offset": 1, "color": "#00ff00"}]}}},

    {"data": {"name": "poly"}, "transform": [{"filter": "datum.p === 'TW'"}], "encoding": {"order": {"field": "i", "type": "quantitative"}},
      "mark": {"type": "line", "clip": true, "strokeWidth": 0, "stroke": null,
        "fill": {"gradient": "radial", "x1": 0.2737, "y1": 0.2757, "r1": 0, "x2": 0.2737, "y2": 0.2757, "r2": 0.4, "stops": [{"offset": 0, "color": "rgba(255,255,255,1)"}, {"offset": 0.05, "color": "rgba(255,255,255,0.85)"}, {"offset": 0.125, "color": "rgba(255,255,255,0.55)"}, {"offset": 0.25, "color": "rgba(255,255,255,0.3)"}, {"offset": 0.45, "color": "rgba(255,255,255,0.15)"}, {"offset": 0.75, "color": "rgba(255,255,255,0.05)"}, {"offset": 1, "color": "rgba(255,255,255,0)"}]}}},
    {"data": {"name": "rects"}, "transform": [{"filter": "datum.r === 'plot'"}], "mark": {"type": "rect", "filled": false, "fill": null, "stroke": "#9e9e9e", "strokeWidth": 2}, "encoding": {"x2": {"field": "u2"}, "y2": {"field": "v2"}}},
    {"data": {"name": "pts"}, "transform": [{"filter": "datum.kind === 'target' && datum.name !== 'W'"}], "mark": {"type": "point", "shape": "square", "size": 380, "filled": false, "stroke": "#ffffff", "strokeWidth": 2.5, "opacity": 1}},
    {"data": {"name": "pts"}, "transform": [{"filter": "datum.kind === 'target' && datum.name === 'W'"}], "mark": {"type": "point", "shape": "square", "size": 380, "filled": false, "stroke": "#000000", "strokeWidth": 2.5, "opacity": 1}},
    {"data": {"name": "pts"}, "transform": [{"filter": "datum.kind === 'measured'"}],
      "mark": {"type": "point", "shape": "circle", "size": 120, "filled": true, "stroke": "#141414", "strokeWidth": 1.5, "opacity": 1},
      "encoding": {"fill": {"field": "name", "type": "nominal", "legend": null, "scale": {"domain": ["G", "Y", "R", "W", "C", "M", "B"], "range": ["#00e000", "#f0e800", "#ff0000", "#ffffff", "#00e0d8", "#ff10ff", "#0040ff"]}}}}
  ]
}
